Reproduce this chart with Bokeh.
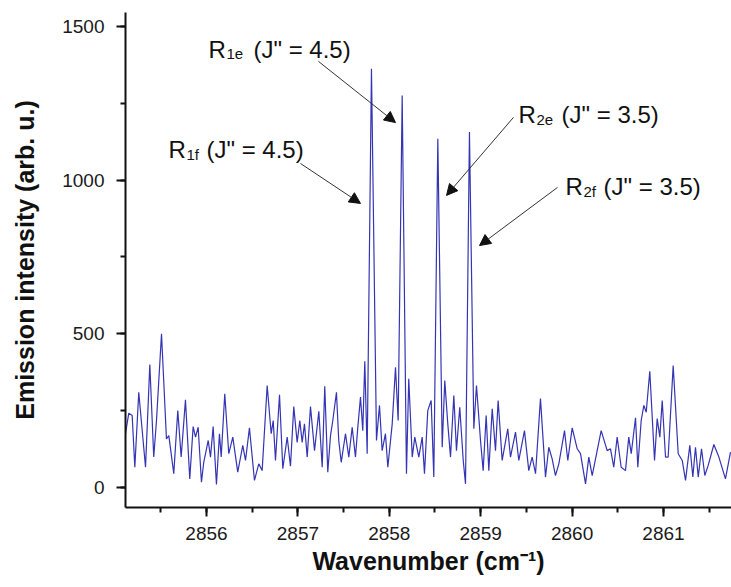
from bokeh.plotting import figure
from bokeh.models import Range1d, SingleIntervalTicker, Arrow, NormalHead, ColumnDataSource
from bokeh.core.properties import value
from bokeh.embed import file_html
from bokeh.resources import INLINE

# ---- spectrum ----
wavenumber = [
    2855.114, 2855.150, 2855.187, 2855.216, 2855.259, 2855.333, 2855.380, 2855.423, 2855.453, 2855.508,
    2855.562, 2855.588, 2855.642, 2855.686, 2855.723, 2855.770, 2855.817, 2855.854, 2855.880, 2855.909,
    2855.945, 2855.970, 2856.019, 2856.044, 2856.073, 2856.109, 2856.142, 2856.161, 2856.200, 2856.244,
    2856.288, 2856.342, 2856.397, 2856.427, 2856.470, 2856.525, 2856.572, 2856.609, 2856.664, 2856.708,
    2856.730, 2856.755, 2856.799, 2856.835, 2856.883, 2856.919, 2856.955, 2856.992, 2857.021, 2857.047,
    2857.072, 2857.102, 2857.138, 2857.182, 2857.229, 2857.266, 2857.294, 2857.327, 2857.357, 2857.382,
    2857.422, 2857.447, 2857.474, 2857.521, 2857.557, 2857.594, 2857.630, 2857.655, 2857.685, 2857.710,
    2857.732, 2857.758, 2857.805, 2857.860, 2857.893, 2857.922, 2857.958, 2857.984, 2858.032, 2858.068,
    2858.097, 2858.141, 2858.188, 2858.213, 2858.251, 2858.279, 2858.323, 2858.360, 2858.385, 2858.421,
    2858.458, 2858.487, 2858.531, 2858.579, 2858.607, 2858.640, 2858.670, 2858.706, 2858.735, 2858.771,
    2858.809, 2858.834, 2858.877, 2858.925, 2858.954, 2858.998, 2859.027, 2859.060, 2859.089, 2859.126,
    2859.162, 2859.191, 2859.235, 2859.296, 2859.326, 2859.381, 2859.417, 2859.479, 2859.526, 2859.563,
    2859.600, 2859.654, 2859.709, 2859.745, 2859.782, 2859.818, 2859.855, 2859.917, 2859.953, 2860.001,
    2860.056, 2860.092, 2860.147, 2860.183, 2860.220, 2860.318, 2860.384, 2860.420, 2860.456, 2860.493,
    2860.537, 2860.584, 2860.620, 2860.647, 2860.694, 2860.719, 2860.756, 2860.785, 2860.811, 2860.850,
    2860.902, 2860.931, 2860.960, 2860.986, 2861.022, 2861.051, 2861.106, 2861.161, 2861.205, 2861.241,
    2861.288, 2861.321, 2861.350, 2861.380, 2861.416, 2861.452, 2861.489, 2861.551, 2861.606, 2861.678,
    2861.733,
]
intensity = [
    175, 242, 234, 66, 310, 66, 400, 99, 218, 500,
    158, 169, 45, 250, 99, 285, 28, 198, 164, 196,
    17, 82, 153, 99, 198, 10, 175, 99, 305, 110,
    164, 50, 137, 88, 194, 23, 77, 55, 332, 175,
    218, 88, 302, 61, 164, 69, 263, 147, 218, 147,
    207, 99, 263, 120, 248, 66, 329, 50, 169, 218,
    310, 153, 82, 175, 99, 196, 99, 194, 294, 185,
    411, 110, 1362, 153, 267, 120, 175, 66, 207, 391,
    218, 1275, 45, 354, 99, 164, 99, 164, 45, 250,
    283, 34, 1134, 131, 348, 207, 99, 299, 120, 261,
    88, 12, 1156, 191, 332, 153, 55, 234, 55, 256,
    120, 283, 88, 191, 99, 180, 88, 185, 55, 99,
    45, 289, 34, 131, 93, 39, 77, 185, 88, 194,
    126, 110, 12, 99, 39, 185, 120, 126, 66, 164,
    66, 55, 164, 110, 227, 66, 218, 267, 245, 378,
    88, 224, 164, 283, 99, 99, 397, 110, 88, 23,
    137, 34, 131, 34, 126, 39, 72, 140, 99, 28,
    115,
]

# ---- annotations ----
label_main = ["R", "R", "R", "R"]
label_sub = ["1e", "1f", "2e", "2f"]
label_rest = ["(J\" = 4.5)", "(J\" = 4.5)", "(J\" = 3.5)", "(J\" = 3.5)"]
label_x = [2856.022, 2855.584, 2859.414, 2859.928]
label_y = [1425, 1100, 1213, 979]
rest_offset = [45, 38, 43, 38]

arrow_x0 = [2857.225, 2857.028, 2859.359, 2859.840]
arrow_y0 = [1386, 1054, 1204, 976]
arrow_x1 = [2858.068, 2857.685, 2858.626, 2858.987]
arrow_y1 = [1187, 924, 950, 787]

x_title = "Wavenumber (cm\u207b\u00b9)"
y_title = "Emission intensity (arb. u.)"

FONT = "Liberation Sans"

p = figure(width=731, height=587, output_backend="svg", toolbar_location=None,
           x_range=Range1d(2855.114, 2861.744), y_range=Range1d(-65, 1545),
           min_border_left=125, min_border_right=0, min_border_top=12, min_border_bottom=80)
p.outline_line_color = None
p.xgrid.visible = False
p.ygrid.visible = False
p.background_fill_color = "white"
p.border_fill_color = "white"

p.line(wavenumber, intensity, line_color="#3434b4", line_width=1.2)

for ax, tick in ((p.xaxis[0], SingleIntervalTicker(interval=1, num_minor_ticks=2)),
                 (p.yaxis[0], SingleIntervalTicker(interval=500, num_minor_ticks=2))):
    ax.ticker = tick
    ax.axis_line_width = 2
    ax.axis_line_color = "#111111"
    ax.major_tick_line_width = 2
    ax.minor_tick_line_width = 2
    ax.major_tick_line_color = "#111111"
    ax.minor_tick_line_color = "#111111"
    ax.major_tick_out = 9
    ax.major_tick_in = 0
    ax.minor_tick_out = 5
    ax.minor_tick_in = 0
    ax.major_label_text_font = FONT
    ax.major_label_text_font_size = "19px"
    ax.major_label_text_color = "#1a1a1a"
    ax.axis_label_text_font = FONT
    ax.axis_label_text_font_style = "bold"
    ax.axis_label_text_font_size = "25px"
    ax.axis_label_text_color = "#111111"

p.xaxis[0].axis_label = x_title
p.xaxis[0].major_label_standoff = 10
p.xaxis[0].axis_label_standoff = 4
p.yaxis[0].axis_label = y_title
p.yaxis[0].major_label_standoff = 12
p.yaxis[0].axis_label_standoff = 20

src = ColumnDataSource(dict(x=label_x, y=label_y, main=label_main, sub=label_sub,
                            rest=label_rest, off=rest_offset))
p.text(x="x", y="y", text="main", source=src, text_font=value(FONT), text_font_size="24px",
       text_baseline="alphabetic", text_align="left", text_color="#111111")
p.text(x="x", y="y", text="sub", source=src, text_font=value(FONT), text_font_size="15px",
       text_baseline="alphabetic", text_align="left", text_color="#111111", x_offset=18, y_offset=5)
p.text(x="x", y="y", text="rest", source=src, text_font=value(FONT), text_font_size="24px",
       text_baseline="alphabetic", text_align="left", text_color="#111111", x_offset="off")

for xs, ys, xe, ye in zip(arrow_x0, arrow_y0, arrow_x1, arrow_y1):
    p.add_layout(Arrow(end=NormalHead(size=11, fill_color="#111111", line_color="#111111", line_width=1),
                       x_start=xs, y_start=ys, x_end=xe, y_end=ye,
                       line_color="#333333", line_width=1))

open("out.html", "w").write(file_html(p, INLINE))
